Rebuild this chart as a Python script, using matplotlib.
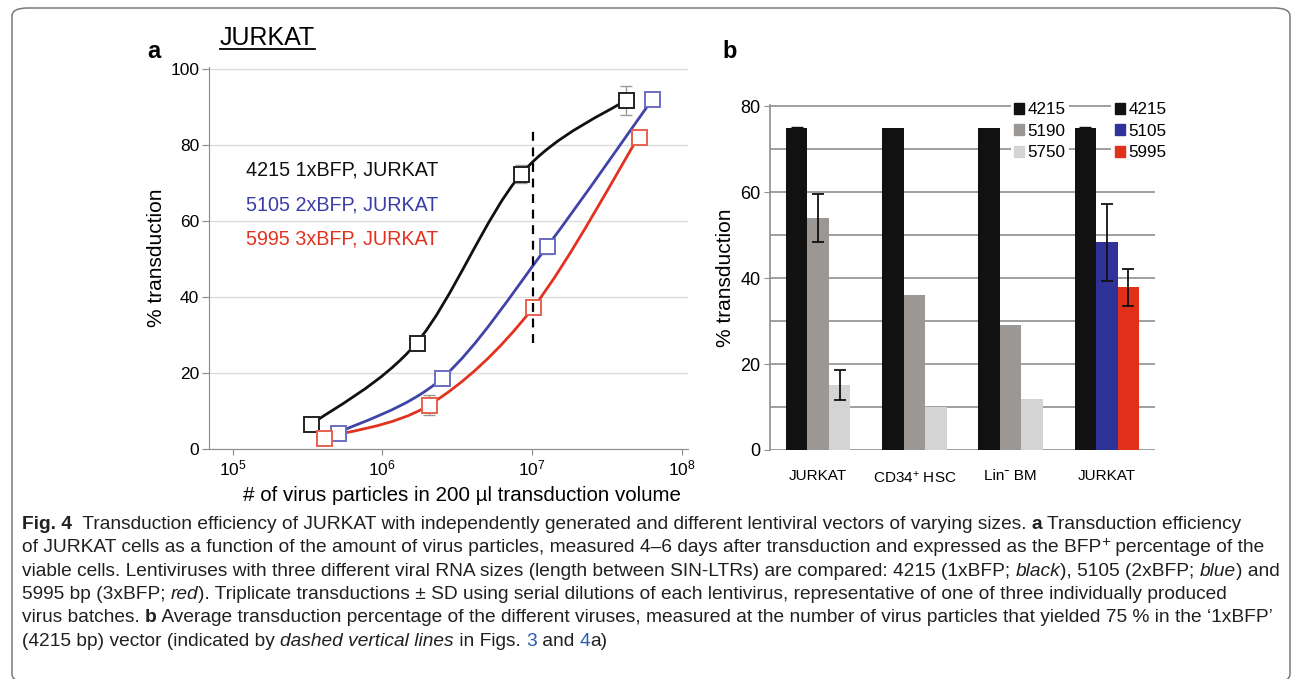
import numpy as np
import matplotlib
matplotlib.use('Agg')
import matplotlib.pyplot as plt
from matplotlib.path import Path
from matplotlib.patches import PathPatch, FancyBboxPatch, Patch
from matplotlib.font_manager import FontProperties

plt.rcParams['font.family'] = ['Liberation Sans', 'DejaVu Sans']
plt.rcParams['mathtext.fontset'] = 'custom'
plt.rcParams['mathtext.rm'] = 'Liberation Sans'
plt.rcParams['mathtext.it'] = 'Liberation Sans:italic'
plt.rcParams['mathtext.bf'] = 'Liberation Sans:bold'

# ---------------- data: panel a (x = virus particles, y = % transduction)
x_4215 = [3.36e5, 1.70e6, 8.47e6, 4.22e7]
y_4215 = [6.5, 28.0, 72.4, 91.8]
err_4215 = [0, 0, 2.3, 3.8]
x_5105 = [5.08e5, 2.52e6, 1.26e7, 6.34e7]
y_5105 = [4.3, 18.7, 53.3, 92.0]
err_5105 = [0, 0, 2.0, 0]
x_5995 = [4.07e5, 2.04e6, 1.02e7, 5.14e7]
y_5995 = [3.0, 11.5, 37.3, 82.2]
err_5995 = [0, 2.6, 0, 0]
dash_x = 1.02e7
dash_y = [27.8, 83.9]
labels_a = ['4215 1xBFP, JURKAT', '5105 2xBFP, JURKAT', '5995 3xBFP, JURKAT']

# ---------------- data: panel b (bars)
cats_b = ['JURKAT', 'CD34$^{+}$ HSC', 'Linˉ BM', 'JURKAT']
vals_4215 = [75.0, 75.0, 75.0, 75.0]
err_4215b = [0.2, 0, 0, 0.2]
vals_5190 = [54.0, 36.0, 29.0]
err_5190 = [5.6, 0, 0]
vals_5750 = [15.1, 10.0, 11.9]
err_5750 = [3.5, 0, 0]
vals_5105 = [48.3]
err_5105b = [9.0]
vals_5995 = [37.9]
err_5995b = [4.3]

W, H = 1293, 679
fig = plt.figure(figsize=(W / 100, H / 100), dpi=100)


def fx(px):
    return px / W


def fy(py):
    return 1 - py / H


# rounded frame around the whole figure
frame = FancyBboxPatch((fx(12), fy(682)), fx(1290) - fx(12), fy(8) - fy(682),
                       boxstyle='round,pad=0,rounding_size=0.012',
                       transform=fig.transFigure, fill=False,
                       ec='#7a7a7a', lw=1.1, clip_on=False)
fig.patches.append(frame)

# ================= panel a =================
ax = fig.add_axes([fx(209), fy(449), fx(688) - fx(209), fy(67) - fy(449)])
ax.set_xscale('log')
ax.set_xlim(10 ** 4.843, 10 ** 8.04)
ax.set_ylim(0, 100.5)
ax.set_yticks([0, 20, 40, 60, 80, 100])
ax.grid(axis='y', color='#dcdcdc', lw=1.0)
ax.set_axisbelow(True)
for s in ['top', 'right']:
    ax.spines[s].set_visible(False)
for s in ['left', 'bottom']:
    ax.spines[s].set_color('#8a8a8a')
ax.tick_params(axis='y', length=5, color='#8a8a8a', labelsize=12.5, pad=2)
ax.tick_params(axis='x', length=4, color='#8a8a8a', labelsize=12.5, pad=3)
ax.tick_params(axis='x', which='minor', length=0)
ax.set_xlabel('# of virus particles in 200 µl transduction volume', fontsize=14.8)
ax.xaxis.set_label_coords(0.528, -0.098)
ax.set_ylabel('% transduction', fontsize=15)
ax.yaxis.set_label_coords(-0.09, 0.5)


def smooth_path(xs, ys):
    # Excel style smoothed line: Catmull-Rom bezier in log-x space
    p = np.column_stack([np.log10(xs), ys])
    n = len(p)
    verts = [p[0]]
    codes = [Path.MOVETO]
    for i in range(n - 1):
        p0 = p[max(i - 1, 0)]
        p1 = p[i]
        p2 = p[i + 1]
        p3 = p[min(i + 2, n - 1)]
        verts += [p1 + (p2 - p0) / 6, p2 - (p3 - p1) / 6, p2]
        codes += [Path.CURVE4] * 3
    verts = np.array(verts)
    verts[:, 0] = 10 ** verts[:, 0]
    return Path(verts, codes)


series_a = [(x_4215, y_4215, err_4215, '#111111', '#222222'),
            (x_5105, y_5105, err_5105, '#4043a8', '#6a6cc4'),
            (x_5995, y_5995, err_5995, '#e2321f', '#e8604f')]
for xs, ys, es, lc, mc in series_a:
    ax.errorbar(xs, ys, yerr=es, fmt='none', ecolor='#9a9a9a', elinewidth=1,
                capsize=4, zorder=2)
    ax.add_patch(PathPatch(smooth_path(xs, ys), fill=False, ec=lc, lw=2.0, zorder=3))
    ax.plot(xs, ys, ls='none', marker='s', ms=10.8, mfc='white', mec=mc, mew=1.4,
            zorder=4)

ax.plot([dash_x, dash_x], dash_y, color='black', lw=1.6, ls=(0, (4, 3)), zorder=5)

for lab, col, yy in zip(labels_a, ['#111111', '#3a3da6', '#e2321f'], [0.73, 0.64, 0.551]):
    ax.text(0.078, yy, lab, transform=ax.transAxes, fontsize=14.2, color=col, va='center')

# ================= panel b =================
bx = fig.add_axes([fx(770), fy(450), fx(1155) - fx(770), fy(105) - fy(450)])
bx.set_xlim(0, 4)
bx.set_ylim(0, 80.3)
bx.set_yticks([0, 20, 40, 60, 80])
bx.set_yticks([10, 30, 50, 70], minor=True)
bx.grid(axis='y', which='both', color='#8f8f8f', lw=1.2)
bx.set_axisbelow(True)
for s in ['top', 'right', 'bottom']:
    bx.spines[s].set_visible(False)
bx.spines['left'].set_color('#8f8f8f')
bx.spines['left'].set_linewidth(1.2)
bx.tick_params(axis='y', length=4, color='#8f8f8f', labelsize=13, pad=3)
bx.tick_params(axis='y', which='minor', length=0)
bx.tick_params(axis='x', length=0, labelsize=11, pad=14)
bx.set_ylabel('% transduction', fontsize=15)
bx.yaxis.set_label_coords(-0.091, 0.5)

bw = 0.223
centers = np.arange(len(cats_b)) + 0.5
bx.bar(centers - bw, vals_4215, bw, color='#111111', zorder=3)
for i, e in enumerate(err_4215b):
    if e:
        bx.errorbar(centers[i] - bw, vals_4215[i], yerr=e, fmt='none', ecolor='#111111',
                    capsize=4, lw=1.2, zorder=4)
bx.bar(centers[:3], vals_5190, bw, color='#9a9794', zorder=3)
bx.bar(centers[:3] + bw, vals_5750, bw, color='#d4d4d4', zorder=3)
bx.bar(centers[3:], vals_5105, bw, color='#2f3399', zorder=3)
bx.bar(centers[3:] + bw, vals_5995, bw, color='#e0301a', zorder=3)
for xs, vs, es in [(centers[:3], vals_5190, err_5190),
                   (centers[:3] + bw, vals_5750, err_5750),
                   (centers[3:], vals_5105, err_5105b),
                   (centers[3:] + bw, vals_5995, err_5995b)]:
    for xx, v, e in zip(xs, vs, es):
        if e:
            bx.errorbar(xx, v, yerr=e, fmt='none', ecolor='#111111', capsize=4.5,
                        lw=1.3, capthick=1.3, zorder=4)
bx.set_xticks(centers)
bx.set_xticklabels(cats_b)

legkw = dict(loc='upper left', fontsize=12.3, handlelength=0.6, handleheight=0.6,
             handletextpad=0.2, labelspacing=0.38, borderpad=0.2, borderaxespad=0,
             framealpha=1, facecolor='white', edgecolor='none', fancybox=False)
leg1 = bx.legend([Patch(color='#111111'), Patch(color='#9a9794'), Patch(color='#d4d4d4')],
                 ['4215', '5190', '5750'], bbox_to_anchor=(0.625, 1.018), **legkw)
leg1.set_zorder(6)
bx.add_artist(leg1)
leg2 = bx.legend([Patch(color='#111111'), Patch(color='#2f3399'), Patch(color='#e0301a')],
                 ['4215', '5105', '5995'], bbox_to_anchor=(0.886, 1.018), **legkw)
leg2.set_zorder(6)

# ================= figure labels =================
fig.text(fx(147), fy(52), 'a', fontsize=17, fontweight='bold', va='center')
fig.text(fx(722), fy(52), 'b', fontsize=17, fontweight='bold', va='center')
t = fig.text(fx(220), fy(38), 'JURKAT', fontsize=18, va='center')
r = fig.canvas.get_renderer()
bb = t.get_window_extent(r)
fig.add_artist(plt.Line2D([fx(220), fx(220) + bb.width / W], [fy(49), fy(49)],
                          transform=fig.transFigure, color='black', lw=1.3))

# ================= caption =================
cap_fam = ['Liberation Sans', 'DejaVu Sans']
cap_size = 13.8
cap_col = '#231f20'


def seg_width(s, fp):
    w1 = r.get_text_width_height_descent('|' + s + '|', fp, ismath=False)[0]
    w0 = r.get_text_width_height_descent('||', fp, ismath=False)[0]
    return w1 - w0


def rich_line(py, parts, x0=22):
    x = x0
    for s, style in parts:
        kw = dict(family=cap_fam, size=cap_size)
        dy = 0
        col = cap_col
        if 'b' in style:
            kw['weight'] = 'bold'
        if 'i' in style:
            kw['style'] = 'italic'
        if 'u' in style:
            kw['size'] = cap_size * 0.8
            dy = 6
        if 'l' in style:
            col = '#2a5db0'
        fp = FontProperties(**kw)
        fig.text(fx(x), fy(py - dy), s, fontproperties=fp, color=col, va='baseline')
        x += seg_width(s, fp)


lines = [
    [('Fig. 4', 'b'), ('  Transduction efficiency of JURKAT with independently generated and '
                       'different lentiviral vectors of varying sizes. ', ''),
     ('a', 'b'), (' Transduction efficiency', '')],
    [('of JURKAT cells as a function of the amount of virus particles, measured 4–6 days after '
      'transduction and expressed as the BFP', ''), ('+', 'u'), (' percentage of the', '')],
    [('viable cells. Lentiviruses with three different viral RNA sizes (length between SIN-LTRs) '
      'are compared: 4215 (1xBFP; ', ''), ('black', 'i'), ('), 5105 (2xBFP; ', ''),
     ('blue', 'i'), (') and', '')],
    [('5995 bp (3xBFP; ', ''), ('red', 'i'), ('). Triplicate transductions ± SD using serial '
                                              'dilutions of each lentivirus, representative of '
                                              'one of three individually produced', '')],
    [('virus batches. ', ''), ('b', 'b'), (' Average transduction percentage of the different '
                                           'viruses, measured at the number of virus particles '
                                           'that yielded 75 % in the ‘1xBFP’', '')],
    [('(4215 bp) vector (indicated by ', ''), ('dashed vertical lines', 'i'), (' in Figs. ', ''),
     ('3', 'l'), (' and ', ''), ('4', 'l'), ('a)', '')],
]
for k, parts in enumerate(lines):
    rich_line(529 + k * 23.3, parts)

fig.savefig('out.png', dpi=100)
